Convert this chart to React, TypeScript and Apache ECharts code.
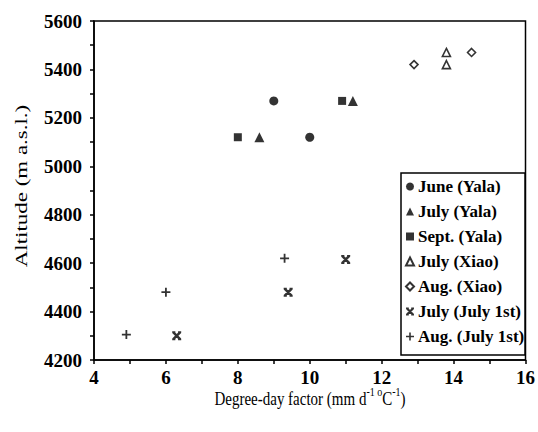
import React, { useEffect, useRef } from 'react';
import * as echarts from 'echarts';

const seriesNames = ['June (Yala)', 'July (Yala)', 'Sept. (Yala)', 'July (Xiao)', 'Aug. (Xiao)', 'July (July 1st)', 'Aug. (July 1st)'];
const juneYala = [[9.0, 5270], [10.0, 5120]];
const julyYala = [[8.6, 5120], [11.2, 5270]];
const septYala = [[8.0, 5120], [10.9, 5270]];
const julyXiao = [[13.8, 5470], [13.8, 5420]];
const augXiao = [[12.9, 5420], [14.5, 5470]];
const julyJuly1st = [[6.3, 4300], [9.4, 4480], [11.0, 4615]];
const augJuly1st = [[4.9, 4305], [6.0, 4480], [9.3, 4620]];
const xTickLabels = [4, 6, 8, 10, 12, 14, 16];
const yTickLabels = [4200, 4400, 4600, 4800, 5000, 5200, 5400, 5600];

const STAR = 'path://M0,2 L2,0 L10,8 L8,10 Z M8,0 L10,2 L2,10 L0,8 Z M0,0 L3.5,0 L3.5,1.6 L0,1.6 Z M6.5,0 L10,0 L10,1.6 L6.5,1.6 Z M0,8.4 L3.5,8.4 L3.5,10 L0,10 Z M6.5,8.4 L10,8.4 L10,10 L6.5,10 Z';
const PLUS = 'path://M4,0 L6,0 L6,4 L10,4 L10,6 L6,6 L6,10 L4,10 L4,6 L0,6 L0,4 L4,4 Z';
const FONT = 'Liberation Serif, serif';

export default function App() {
  const ref = useRef<HTMLDivElement>(null);
  useEffect(() => {
    if (!ref.current) return;
    const chart = echarts.init(ref.current, undefined, { renderer: 'svg' });
    const filled = { color: '#000' };
    const open = { color: '#fff', borderColor: '#000', borderWidth: 1.6 };
    const mk = (name: string, data: number[][], symbol: string, size: number, style: any) => ({
      name, type: 'scatter', data, symbol, symbolSize: size, itemStyle: style, z: 5,
    });
    chart.setOption({
      animation: false,
      textStyle: { fontFamily: FONT },
      grid: { left: 94, right: 11, top: 21, bottom: 72, show: true, borderColor: '#000', borderWidth: 1.5, backgroundColor: 'transparent' },
      xAxis: {
        type: 'value', min: 4, max: 16, interval: 1,
        axisLine: { show: true, lineStyle: { color: '#000', width: 1.5 } },
        axisTick: { show: true, inside: false, length: 4, lineStyle: { color: '#000', width: 1.5 } },
        splitLine: { show: false },
        axisLabel: {
          margin: 8, color: '#000', fontFamily: FONT, fontSize: 19, fontWeight: 'bold',
          formatter: (v: number) => (xTickLabels.includes(v) ? String(v) : ''),
        },
      },
      yAxis: {
        type: 'value', min: 4200, max: 5600, interval: 100,
        axisLine: { show: true, lineStyle: { color: '#000', width: 1.5 } },
        axisTick: { show: true, inside: false, length: 4, lineStyle: { color: '#000', width: 1.5 } },
        splitLine: { show: false },
        axisLabel: {
          margin: 12, color: '#000', fontFamily: FONT, fontSize: 19, fontWeight: 'bold',
          formatter: (v: number) => (yTickLabels.includes(v) ? String(v) : ''),
        },
      },
      legend: {
        orient: 'vertical', left: 401, top: 173, padding: [5, 4, 4, 4],
        itemWidth: 8, itemHeight: 8, itemGap: 8,
        textStyle: { fontFamily: FONT, fontSize: 17, fontWeight: 'bold', color: '#000', padding: [0, 0, 0, -1] },
        data: seriesNames,
      },
      graphic: [
        { type: 'rect', shape: { x: 401, y: 173, width: 124, height: 182 }, style: { fill: '#fff', stroke: '#000', lineWidth: 1.5 }, z: 1 },
        {
          type: 'text', x: 21, y: 186, rotation: Math.PI / 2, scaleX: 1.35, scaleY: 1,
          style: { text: 'Altitude (m a.s.l.)', fontFamily: FONT, fontSize: 17, fill: '#000', align: 'center', verticalAlign: 'middle' },
        },
        {
          type: 'text', x: 310, y: 397, scaleX: 1, scaleY: 1.25,
          style: {
            text: '{a|Degree-day factor (mm d}{s|-1 o}{a|C}{s|-1}{a|)}',
            align: 'center', verticalAlign: 'middle', fill: '#000',
            rich: {
              a: { fontFamily: FONT, fontSize: 15, lineHeight: 18, verticalAlign: 'bottom', fill: '#000' },
              s: { fontFamily: FONT, fontSize: 10, lineHeight: 18, verticalAlign: 'top', fill: '#000' },
            },
          },
        },
      ],
      series: [
        mk(seriesNames[0], juneYala, 'circle', 9, filled),
        mk(seriesNames[1], julyYala, 'triangle', 10, filled),
        mk(seriesNames[2], septYala, 'rect', 8, filled),
        mk(seriesNames[3], julyXiao, 'triangle', 8, open),
        mk(seriesNames[4], augXiao, 'diamond', 8, open),
        mk(seriesNames[5], julyJuly1st, STAR, 9, filled),
        mk(seriesNames[6], augJuly1st, PLUS, 9, filled),
      ],
    });
    return () => chart.dispose();
  }, []);
  return <div ref={ref} style={{ position: 'absolute', left: 0, top: 0, width: 538, height: 432, background: '#fff' }} />;
}
